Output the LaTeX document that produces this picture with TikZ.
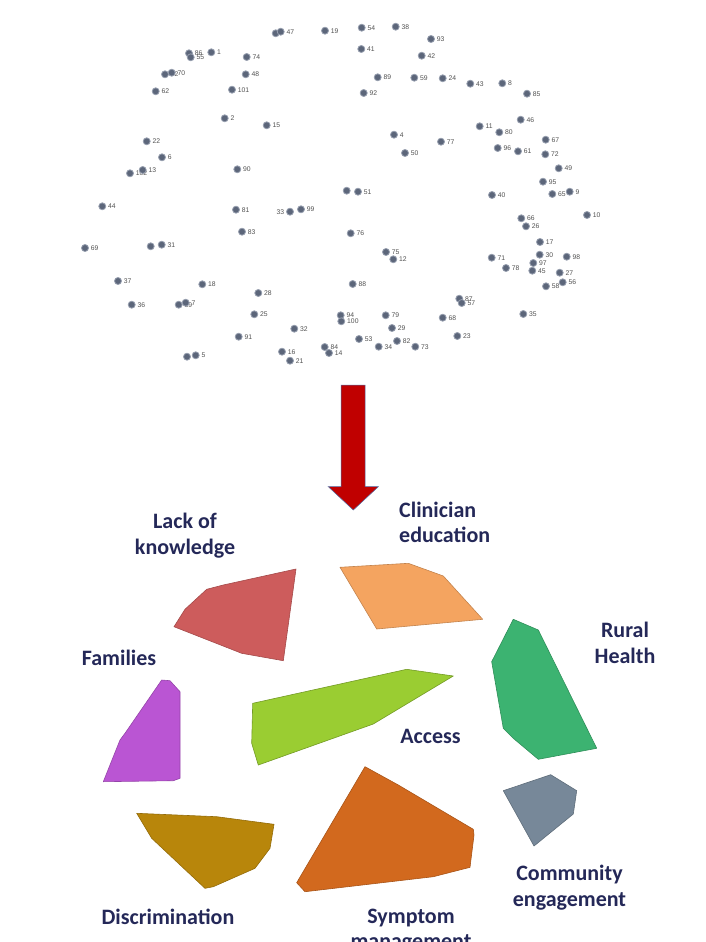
\documentclass[tikz,border=0pt]{standalone}
\usepackage{fontspec}
\setmainfont{Carlito}
\newfontfamily\smallsans{Liberation Sans}
\definecolor{navy}{RGB}{36,40,88}
\definecolor{dotfill}{RGB}{92,102,122}
\definecolor{dotring}{RGB}{150,158,174}
\definecolor{labgray}{RGB}{80,80,80}
\definecolor{arrowred}{RGB}{192,0,0}
\definecolor{arrowedge}{RGB}{79,111,168}
\definecolor{cRed}{RGB}{205,92,92}
\definecolor{cOrange}{RGB}{244,164,96}
\definecolor{cGreen}{RGB}{60,179,113}
\definecolor{cLime}{RGB}{154,205,50}
\definecolor{cPurple}{RGB}{186,85,211}
\definecolor{cGold}{RGB}{184,134,11}
\definecolor{cChoc}{RGB}{210,105,30}
\definecolor{cSlate}{RGB}{119,136,153}
\tikzset{
  dot/.style={circle, fill=dotfill, draw=dotring, line width=0.8pt, minimum size=7pt, inner sep=0pt},
  lab/.style={font=\smallsans\fontsize{6.8}{6.8}\selectfont, text=labgray, inner sep=0pt},
  theme/.style={font=\bfseries\fontsize{22}{25.5}\selectfont, text=navy, align=center, inner sep=0pt},
  cluster/.style={line width=0.6pt, line join=round},
}
\begin{document}
\begin{tikzpicture}[x=1pt,y=-1pt]
\useasboundingbox (0,0) rectangle (705,942);
\clip (0,0) rectangle (705,942);
% ---- scatter of points ----
\foreach \x/\y/\t [count=\i] in {
275.7/33.3/,280.7/31.7/47,325/30.7/19,361.7/27.7/54,395.7/26.7/38,431/39/93,361.3/49/41,421.7/55.7/42,
189/53.3/86,190.7/57.3/55,211.3/52.3/1,246.7/57/74,165/74.3/32,171.7/72.7/70,245.7/74.3/48,155.7/91.3/62,
232/89.7/101,377.7/77.3/89,414.3/77.7/59,442.7/78.3/24,470.3/83.7/43,502.3/83.3/8,527/93.7/85,363.7/93/92,
224.7/118.3/2,266.7/125.3/15,520.7/119.7/46,479.7/126.3/11,499.3/132.3/80,394/134.7/4,441/141.7/77,545.7/139.7/67,
146.7/141.3/22,162/157.3/6,405/153/50,497.7/148/96,518/151.3/61,545.3/154.3/72,130/173.3/102,142.7/170/13,
237.3/169.3/90,558.7/168.3/49,543/181.7/95,346.7/190.7/,358/191.7/51,492/195/40,552.3/194/65,569.7/191.7/9,
102.3/206.3/44,236/209.7/81,301/209.3/99,587/215/10,521.3/218.3/66,526/226.3/26,242/231.7/83,350.7/233.3/76,
85/248/69,150.7/246.3/,161.7/244.7/31,540/242/17,386/252/75,393.3/259.3/12,491.7/257.7/71,539.7/254.7/30,
566.7/256.7/98,533.3/263/97,506/268/78,532.3/270.7/45,559.7/272.7/27,562.7/282.3/56,546/286.3/58,118/281/37,
202.3/284.3/18,352.7/284/88,258.3/293/28,131.7/304.7/36,178.7/304.7/39,185.7/302.7/7,459.3/298.7/87,461.7/303/57,
254.3/314.3/25,340.7/315.3/94,341.3/321.3/100,385.7/315.3/79,442.7/317.7/68,523.3/314/35,294.3/328.7/32,392/328/29,
238.7/336.7/91,457.3/336/23,359/339/53,397/341/82,324.7/347/84,329/353/14,378.7/346.7/34,415.3/346.7/73,
282/351.7/16,290/360.7/21,187/356.7/,195.7/355.3/5}
{
  \node[dot, label={[lab, label distance=1.8pt]right:\t}] (p\i) at (\x,\y) {};
}
\node[dot, label={[lab, label distance=1.8pt]left:33}] (p33) at (290,211.7) {};
% ---- arrow ----
\filldraw[fill=arrowred, draw=arrowedge, line width=0.5pt, line join=miter]
  (341,385) -- (365,385) -- (365,486.7) -- (378.3,486.7) -- (353.3,510)
  -- (328.3,486.7) -- (341,486.7) -- cycle;
% ---- clusters ----
\filldraw[cluster, fill=cRed, draw=cRed!80!black]
  (296,569) -- (283.3,660.7) -- (241.7,653.3) -- (174,626.7) -- (185,609.3) -- (206.7,589.3) -- (223.3,585) -- cycle;
\filldraw[cluster, fill=cOrange, draw=cOrange!80!black]
  (340,567.3) -- (408.3,563.3) -- (443.3,576) -- (482.7,619.3) -- (376.7,629) -- cycle;
\filldraw[cluster, fill=cGreen, draw=cGreen!80!black]
  (513.3,619.3) -- (538.3,630) -- (596.7,748.3) -- (538.3,759.3) -- (513.3,738.3) -- (503.3,728.3) -- (491.7,661.7) -- cycle;
\filldraw[cluster, fill=cLime, draw=cLime!75!black]
  (252.7,703.3) -- (406.7,669.3) -- (453.3,676) -- (373.3,724) -- (258.3,765) -- (251.7,743.3) -- cycle;
\filldraw[cluster, fill=cPurple, draw=cPurple!80!black]
  (161.7,680) -- (170,680.7) -- (180,691.7) -- (180,778.3) -- (173.3,780.7) -- (103.3,781.7) -- (120,740) -- (125,733.3) -- cycle;
\filldraw[cluster, fill=cGold, draw=cGold!80!black]
  (136.7,813.3) -- (216.7,816.7) -- (274,824.3) -- (270,848.3) -- (255,868.3) -- (213.3,886.7) -- (205,888.3) -- (151.7,838.3) -- cycle;
\filldraw[cluster, fill=cChoc, draw=cChoc!80!black]
  (365,766.7) -- (398.3,785) -- (473.3,829.3) -- (474,835) -- (470,867.3) -- (433.3,876.7) -- (305,891.7) -- (296.7,882.7) -- cycle;
\filldraw[cluster, fill=cSlate, draw=cSlate!80!black]
  (503.3,790.7) -- (550.7,774.7) -- (576.7,790.7) -- (573.3,814) -- (534,846) -- cycle;
% ---- theme labels ----
\node[theme] (lk) at (185,535.5) {Lack of\\knowledge};
\node[theme, anchor=west, align=left] (ce) at (399,522.5) {Clinician\\education};
\node[theme] (rh) at (625,643) {Rural\\Health};
\node[theme] (ac) at (430.5,736.7) {Access};
\node[theme] (fa) at (119,658.3) {Families};
\node[theme] (di) at (168,917.3) {Discrimination};
\node[theme] (co) at (569.5,887.5) {Community\\engagement};
\node[theme] (sy) at (411,930.5) {Symptom\\management};
\end{tikzpicture}
\end{document}
